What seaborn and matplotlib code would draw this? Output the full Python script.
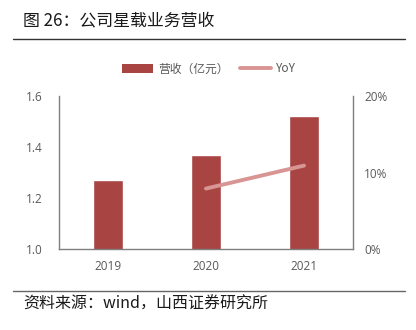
import matplotlib
matplotlib.use("Agg")
import matplotlib.pyplot as plt
import seaborn as sns
import pandas as pd
from matplotlib.lines import Line2D
from matplotlib.patches import Patch
from matplotlib.ticker import FuncFormatter

years = ["2019", "2020", "2021"]
revenue = [1.27, 1.37, 1.52]
yoy_years = ["2020", "2021"]
yoy = [7.9, 10.9]
left_ticks = [1.0, 1.2, 1.4, 1.6]
right_ticks = [0, 10, 20]

title = "图 26：公司星载业务营收"
source = "资料来源：wind，山西证券研究所"
bar_label = "营收（亿元）"
line_label = "YoY"

sns.set_theme(style="white")
plt.rcParams['font.family'] = ['Noto Sans CJK SC', 'DejaVu Sans']

bar_color = "#A84543"
line_color = "#D99594"
tick_color = "#595959"
spine_color = "#7F7F7F"

df = pd.DataFrame({"year": years, "revenue": revenue})
df_yoy = pd.DataFrame({"year": yoy_years, "yoy": yoy})

fig = plt.figure(figsize=(4.16, 3.30), dpi=100)
ax = fig.add_axes([59/416, 1-249/330, (353-59)/416, (249-96)/330])

sns.barplot(data=df, x="year", y="revenue", color=bar_color, width=0.31,
            saturation=1, ax=ax, order=years)
ax.set_ylim(1.0, 1.6)
ax.set_yticks(left_ticks)
ax.yaxis.set_major_formatter(FuncFormatter(lambda v, p: f"{v:.1f}"))
ax.set_xlim(-0.5, 2.5)
ax.set_xlabel("")
ax.set_ylabel("")

ax2 = ax.twinx()
pos = {y: i for i, y in enumerate(years)}
sns.lineplot(x=[pos[y] for y in yoy_years], y=yoy, color=line_color, linewidth=2.8,
             ax=ax2, solid_capstyle="round")
ax2.set_ylim(0, 20)
ax2.set_yticks(right_ticks)
ax2.yaxis.set_major_formatter(FuncFormatter(lambda v, p: f"{v:.0f}%"))
ax2.set_xlim(-0.5, 2.5)

for a in (ax, ax2):
    for s in a.spines.values():
        s.set_visible(False)
    a.tick_params(axis="both", length=0, colors=tick_color, labelsize=8.5)
    for lab in a.get_xticklabels() + a.get_yticklabels():
        lab.set_fontfamily(["Open Sans", "DejaVu Sans"])
ax.spines["left"].set_visible(True)
ax.spines["bottom"].set_visible(True)
ax2.spines["right"].set_visible(True)
for a, s in ((ax, "left"), (ax, "bottom"), (ax2, "right")):
    a.spines[s].set_color(spine_color)
    a.spines[s].set_linewidth(1.0)
ax.tick_params(axis="y", pad=12)
ax.tick_params(axis="x", pad=8)
ax2.tick_params(axis="y", pad=8)

handles = [Patch(facecolor=bar_color, edgecolor="none"),
           Line2D([0], [0], color=line_color, linewidth=2.8)]
fig.legend(handles, [bar_label, line_label], loc="center", bbox_to_anchor=(209/416, 1-69/330),
           ncol=2, frameon=False, fontsize=8.5, handlelength=2.6, handleheight=0.9,
           columnspacing=1.0, handletextpad=0.4, labelcolor=tick_color)

fig.text(23/416, 1-20/330, title, fontsize=12.2, va="center", ha="left", color="#1a1a1a")
fig.add_artist(Line2D([13/416, 405/416], [1-39/330, 1-39/330], color="#333333", linewidth=1.0))
fig.add_artist(Line2D([13/416, 405/416], [1-291/330, 1-291/330], color="#666666", linewidth=1.0))
fig.text(23/416, 1-304/330, source, fontsize=11.5, va="center", ha="left", color="#1a1a1a")

fig.savefig("out.png", dpi=100)
